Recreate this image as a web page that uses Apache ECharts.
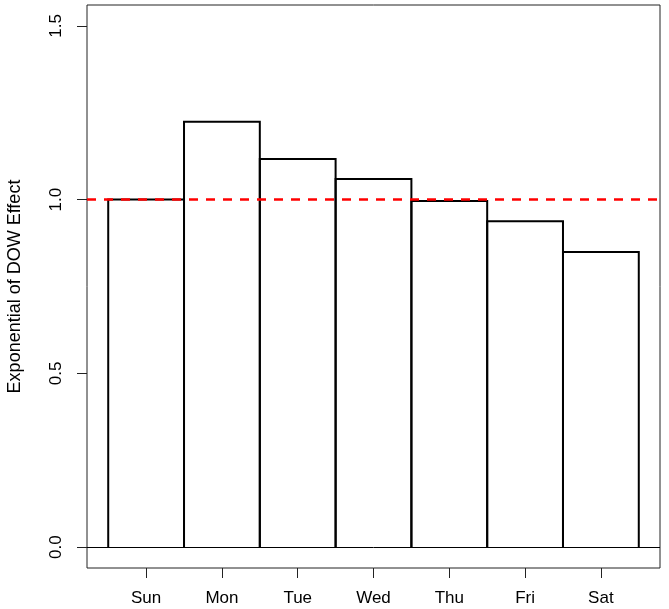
<!DOCTYPE html>
<html>
<head>
<meta charset="utf-8">
<script src="https://cdn.jsdelivr.net/npm/echarts@6/dist/echarts.min.js"></script>
<style>
  html, body { margin: 0; padding: 0; background: #fff; }
  #dowChart { width: 669px; height: 609px; }
</style>
</head>
<body>
<div id="dowChart"></div>
<script>
// day-of-week categories and exponentiated effects
const days = ['Sun', 'Mon', 'Tue', 'Wed', 'Thu', 'Fri', 'Sat']
const dowEffect = [1.0, 1.224, 1.117, 1.059, 0.996, 0.938, 0.849]
const yTicks = [0, 0.5, 1.0, 1.5]
const refLine = 1.0

const chart = echarts.init(document.getElementById('dowChart'))
const font = 'Liberation Sans, Arial, sans-serif'

// bars sit on [i, i+1], centre ticks at i + 0.5
const xTicks = days.map((d, i) => i + 0.5)

const option = {
  animation: false,
  grid: {
    left: 87,
    right: 9,
    top: 5,
    bottom: 41,
    outerBoundsMode: 'none',
    show: true,
    borderColor: '#222',
    borderWidth: 1
  },
  xAxis: {
    type: 'value',
    min: -0.28,
    max: 7.28,
    splitLine: { show: false },
    axisLine: { show: false, onZero: false },
    axisTick: {
      show: true,
      length: 10,
      customValues: xTicks,
      lineStyle: { color: '#222', width: 1 }
    },
    axisLabel: {
      customValues: xTicks,
      margin: 22,
      fontSize: 17,
      color: '#000',
      fontFamily: font,
      formatter: v => days[Math.round(v - 0.5)]
    }
  },
  yAxis: {
    type: 'value',
    min: -0.06,
    max: 1.56,
    name: 'Exponential of DOW Effect',
    nameLocation: 'middle',
    nameGap: 63,
    nameRotate: 90,
    nameTextStyle: { fontSize: 18, color: '#000', fontFamily: font },
    splitLine: { show: false },
    axisLine: { show: false, onZero: false },
    axisTick: {
      show: true,
      length: 10,
      customValues: yTicks,
      lineStyle: { color: '#222', width: 1 }
    },
    axisLabel: {
      customValues: yTicks,
      rotate: 90,
      margin: 22,
      fontSize: 17,
      color: '#000',
      fontFamily: font,
      formatter: v => v.toFixed(1)
    }
  },
  series: [
    {
      type: 'custom',
      data: dowEffect.map((v, i) => [i, v]),
      renderItem: (params, api) => {
        const i = api.value(0)
        const v = api.value(1)
        const p0 = api.coord([i, 0])
        const p1 = api.coord([i, v])
        const p2 = api.coord([i + 1, v])
        const p3 = api.coord([i + 1, 0])
        return {
          type: 'polyline',
          shape: { points: [p0, p1, p2, p3] },
          style: { fill: null, stroke: '#000', lineWidth: 2 }
        }
      },
      markLine: {
        silent: true,
        symbol: 'none',
        label: { show: false },
        data: [
          { yAxis: 0, lineStyle: { color: '#000', width: 1, type: 'solid' } },
          { yAxis: refLine, lineStyle: { color: '#ff0000', width: 2.5, type: [9, 8] } }
        ]
      }
    }
  ]
}

chart.setOption(option)
</script>
</body>
</html>
